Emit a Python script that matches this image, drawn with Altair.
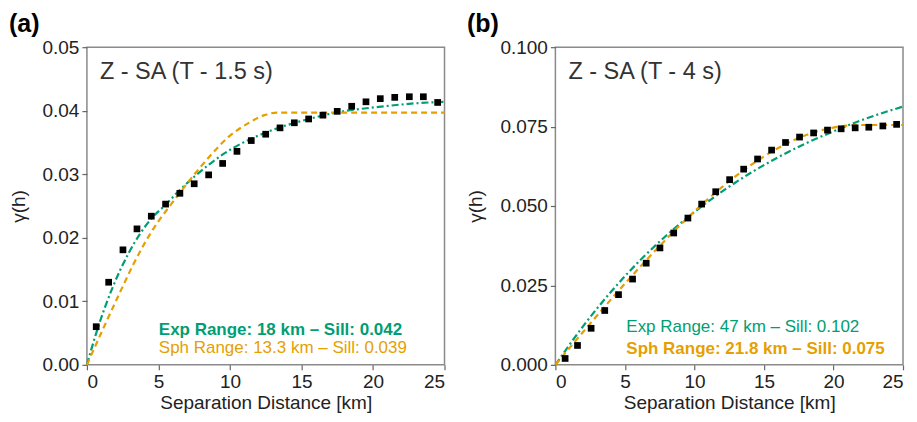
import altair as alt
import pandas as pd

# ---------------- Panel (a): Z - SA (T - 1.5 s) ----------------
a_h = [0.65, 1.52, 2.52, 3.50, 4.50, 5.50, 6.50, 7.50, 8.51, 9.49, 10.49, 11.49, 12.50,
       13.50, 14.50, 15.50, 16.50, 17.50, 18.51, 19.51, 20.51, 21.52, 22.54, 23.52, 24.52]
a_gamma = [0.0060, 0.0130, 0.0181, 0.0214, 0.0234, 0.0253, 0.0270, 0.0285, 0.0299, 0.0317,
           0.0336, 0.0353, 0.0363, 0.0373, 0.0381, 0.0387, 0.0393, 0.0399, 0.0407, 0.0414,
           0.0419, 0.0421, 0.0422, 0.0422, 0.0413]
a_exp_h = [0, 0.65, 1.8, 2.9, 4.5, 5.5, 6.4, 7.5, 8.7, 9.9, 11.5, 13.4, 15.7, 17.4, 20.4, 23.2, 25]
a_exp_g = [0, 0.0050, 0.0122, 0.0175, 0.0230, 0.0252, 0.0273, 0.0296, 0.0318, 0.0337, 0.0356,
           0.0373, 0.0388, 0.0397, 0.0406, 0.0412, 0.0414]
a_sph_h = [0, 1.2, 2.35, 3.2, 4.0, 5.0, 5.66, 7.2, 8.7, 9.86, 11.26, 12.4, 13.3, 25]
a_sph_g = [0, 0.0060, 0.0116, 0.0156, 0.0190, 0.0226, 0.0246, 0.0291, 0.0331, 0.0358,
           0.0380, 0.0393, 0.0397, 0.0397]
a_yticks = [0, 0.01, 0.02, 0.03, 0.04, 0.05]
a_label = "Z - SA (T - 1.5 s)"
a_exp_text = "Exp Range: 18 km \u2013 Sill: 0.042"
a_sph_text = "Sph Range: 13.3 km \u2013 Sill: 0.039"

# ---------------- Panel (b): Z - SA (T - 4 s) ----------------
b_h = [0.70, 1.59, 2.57, 3.55, 4.54, 5.55, 6.53, 7.52, 8.51, 9.53, 10.52, 11.53, 12.53,
       13.54, 14.54, 15.55, 16.55, 17.56, 18.57, 19.57, 20.55, 21.56, 22.54, 23.55, 24.54]
b_gamma = [0.0020, 0.0061, 0.0115, 0.0171, 0.0221, 0.0270, 0.0320, 0.0368, 0.0415, 0.0462,
           0.0506, 0.0545, 0.0583, 0.0616, 0.0648, 0.0676, 0.0700, 0.0717, 0.0730, 0.0739,
           0.0743, 0.0746, 0.0748, 0.0752, 0.0757]
b_exp_h = [0, 2, 4, 6, 8, 10, 12, 14, 16, 18, 20, 22, 25]
b_exp_g = [0, 0.0122, 0.0230, 0.0325, 0.0408, 0.0481, 0.0546, 0.0603, 0.0653, 0.0697,
           0.0735, 0.0770, 0.0813]
b_sph_h = [0, 2, 4, 6, 8, 10, 12, 14, 16, 18, 20, 21.8, 25]
b_sph_g = [0, 0.0104, 0.0206, 0.0304, 0.0397, 0.0483, 0.0560, 0.0627, 0.0682, 0.0723,
           0.0747, 0.0755, 0.0755]
b_yticks = [0, 0.025, 0.05, 0.075, 0.1]
b_label = "Z - SA (T - 4 s)"
b_exp_text = "Exp Range: 47 km \u2013 Sill: 0.102"
b_sph_text = "Sph Range: 21.8 km \u2013 Sill: 0.075"

x_ticks = [0, 5, 10, 15, 20, 25]

GREEN = "#009E73"
ORANGE = "#E69F00"
FONT = "Liberation Sans"


def panel(tag, h, g, eh, eg, sh, sg, yticks, yfmt, label, exp_text, sph_text,
          exp_bold, width, height, txt_x, exp_y, sph_y):
    xenc = alt.X("h:Q", scale=alt.Scale(domain=[0, 25], nice=False),
                 axis=alt.Axis(values=x_ticks, title="Separation Distance [km]",
                               titlePadding=2, labelPadding=3))
    yenc = alt.Y("g:Q", scale=alt.Scale(domain=[yticks[0], yticks[-1]], nice=False),
                 axis=alt.Axis(values=yticks, format=yfmt, title="\u03b3(h)",
                               titlePadding=14, labelPadding=3))
    exp_line = alt.Chart(pd.DataFrame({"h": eh, "g": eg})).mark_line(
        color=GREEN, strokeWidth=2.2, strokeDash=[7, 3, 2, 3], interpolate="monotone"
    ).encode(x=xenc, y=yenc)
    sph_line = alt.Chart(pd.DataFrame({"h": sh, "g": sg})).mark_line(
        color=ORANGE, strokeWidth=2.2, strokeDash=[6, 4], interpolate="monotone"
    ).encode(x=xenc, y=yenc)
    pts = alt.Chart(pd.DataFrame({"h": h, "g": g})).mark_square(
        color="black", size=45, opacity=1
    ).encode(x=xenc, y=yenc)
    lab = alt.Chart(pd.DataFrame({"t": [label]})).mark_text(
        align="left", baseline="alphabetic", font=FONT, fontSize=23.5, color="#333333"
    ).encode(x=alt.value(13), y=alt.value(32), text="t:N")
    et = alt.Chart(pd.DataFrame({"t": [exp_text]})).mark_text(
        align="left", baseline="alphabetic", font=FONT, fontSize=17,
        fontWeight="bold" if exp_bold else "normal", color=GREEN
    ).encode(x=alt.value(txt_x), y=alt.value(exp_y), text="t:N")
    st = alt.Chart(pd.DataFrame({"t": [sph_text]})).mark_text(
        align="left", baseline="alphabetic", font=FONT, fontSize=17,
        fontWeight="normal" if exp_bold else "bold", color=ORANGE
    ).encode(x=alt.value(txt_x), y=alt.value(sph_y), text="t:N")
    return alt.layer(exp_line, sph_line, pts, lab, et, st).properties(
        width=width, height=height,
        title=alt.TitleParams(tag, anchor="start", frame="bounds", font=FONT,
                              fontSize=25, fontWeight="bold", offset=1, color="black"),
    )


pa = panel("(a)", a_h, a_gamma, a_exp_h, a_exp_g, a_sph_h, a_sph_g, a_yticks, ".2f",
           a_label, a_exp_text, a_sph_text, True, 358, 318, 72, 288, 306)
pb = panel("(b)", b_h, b_gamma, b_exp_h, b_exp_g, b_sph_h, b_sph_g, b_yticks, ".3f",
           b_label, b_exp_text, b_sph_text, False, 348, 318, 71, 285, 307)

chart = alt.hconcat(pa, pb, spacing=15).properties(
    padding={"left": 0, "top": 3, "right": 0, "bottom": 0}
).configure_view(
    stroke="#8a8a8a", strokeWidth=1.5
).configure_axis(
    grid=False, domain=False, tickSize=5, tickColor="#666666", tickWidth=1.2,
    labelFont=FONT, labelFontSize=19, labelColor="#222222",
    titleFont=FONT, titleFontSize=19, titleFontWeight="normal", titleColor="#222222",
)

chart.save("out.html", embed_options={"renderer": "svg", "actions": False})
